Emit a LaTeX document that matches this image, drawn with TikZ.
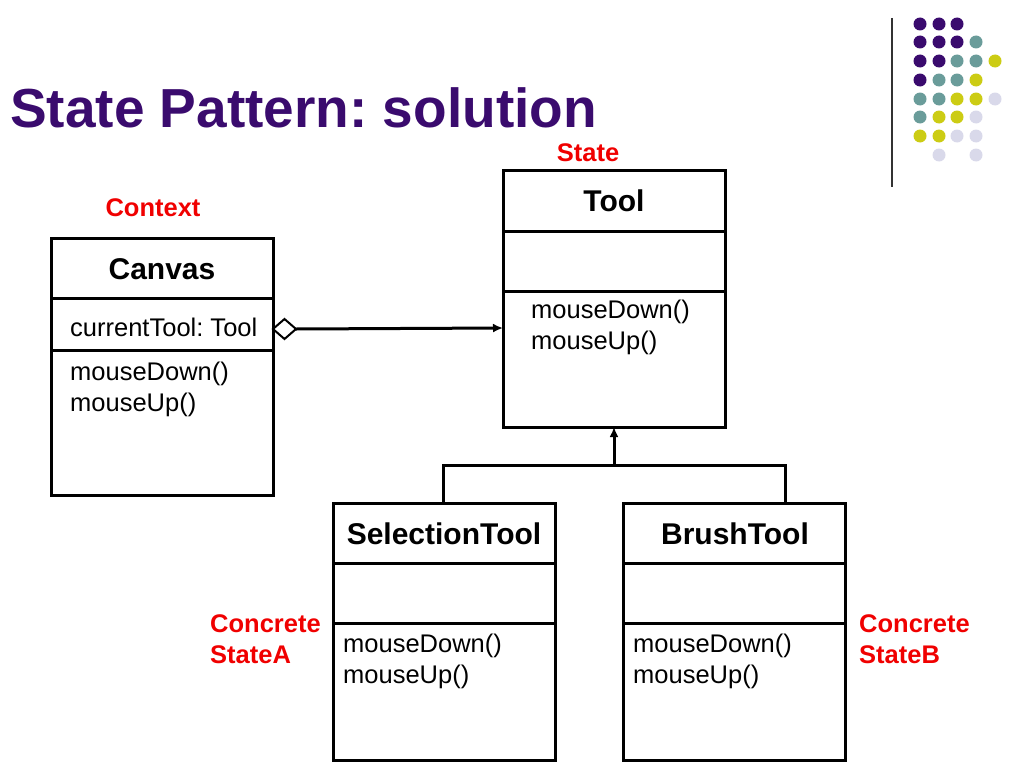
\documentclass[tikz,border=0pt]{standalone}
\usepackage{fontspec}
\setmainfont{Liberation Sans}
\usetikzlibrary{arrows.meta}
\definecolor{pp}{HTML}{3A0B6E}
\definecolor{tt}{HTML}{6A9C9A}
\definecolor{yy}{HTML}{CCCC14}
\definecolor{ll}{HTML}{D9D9EA}
\definecolor{rd}{HTML}{F00000}
\frenchspacing
\begin{document}
\begin{tikzpicture}[x=1pt,y=-1pt,
  box/.style={draw,line width=3pt},
  nm/.style={font=\bfseries\fontsize{30}{34}\selectfont},
  mt/.style={font=\fontsize{25.5}{31}\selectfont,align=left,anchor=north west,inner sep=0pt},
  lb/.style={text=rd,font=\bfseries\fontsize{25.5}{31}\selectfont,align=left,inner sep=0pt},
  ln/.style={line width=3pt}]
\useasboundingbox (0,0) rectangle (1024,768);
\draw[line width=1.8pt,black!80] (892,18) -- (892,187);
\foreach \c/\x/\y in {pp/920/24,pp/939/24,pp/957/24,
 pp/920/42,pp/939/42,pp/957/42,tt/976/42,
 pp/920/61,pp/939/61,tt/957/61,tt/976/61,yy/995/61,
 pp/920/80,tt/939/80,tt/957/80,yy/976/80,
 tt/920/99,tt/939/99,yy/957/99,yy/976/99,ll/995/99,
 tt/920/117,yy/939/117,yy/957/117,ll/976/117,
 yy/920/136,yy/939/136,ll/957/136,ll/976/136,
 ll/939/155,ll/976/155}
 \fill[\c] (\x,\y) circle (6.5);
\node[anchor=base west,inner sep=0pt,text=pp,font=\bfseries\fontsize{55}{60}\selectfont] (title) at (10,127) {State Pattern: solution};
% Tool
\draw[box] (503,170) rectangle (725,427);
\draw[ln] (503,231) -- (725,231) (503,291) -- (725,291);
\node[nm] (tool) at (614,201) {Tool};
\node[mt] (toolm) at (531,300) {mouseDown()\\mouseUp()};
\node[lb] (state) at (588,153) {State};
% Canvas
\draw[box] (51,238) rectangle (273,495);
\draw[ln] (51,298) -- (273,298) (51,350) -- (273,350);
\node[nm] (canvas) at (162,269) {Canvas};
\node[mt] (canvasa) at (70,318) {currentTool: Tool};
\node[mt] (canvasm) at (70,362) {mouseDown()\\mouseUp()};
\node[lb] (ctx) at (153,208) {Context};
% Selection
\draw[box] (333,503) rectangle (555,760);
\draw[ln] (333,563) -- (555,563) (333,623) -- (555,623);
\node[nm] (sel) at (444,534) {SelectionTool};
\node[mt] (selm) at (343,634) {mouseDown()\\mouseUp()};
\node[lb,anchor=west] (ca) at (210,639) {Concrete\\StateA};
% Brush
\draw[box] (623,503) rectangle (845,760);
\draw[ln] (623,563) -- (845,563) (623,623) -- (845,623);
\node[nm] (br) at (735,534) {BrushTool};
\node[mt] (brm) at (633,634) {mouseDown()\\mouseUp()};
\node[lb,anchor=west] (cb) at (859,639) {Concrete\\StateB};
% connectors
\coordinate (dB) at (296,329);
\coordinate (aE) at (503,328);
\draw[line width=2pt,fill=white] (273,329) -- (284.5,319) -- (296,329) -- (284.5,339) -- cycle;
\draw[ln,-{Latex[length=10pt,width=9pt]}] (dB) -- (aE);
\coordinate (j) at (614,465);
\coordinate (t) at (614,427);
\draw[ln,-{Latex[length=10pt,width=9pt]}] (j) -- (t);
\draw[ln] (443,503) -- (443,465) -- (785,465) -- (785,503);
\end{tikzpicture}
\end{document}
